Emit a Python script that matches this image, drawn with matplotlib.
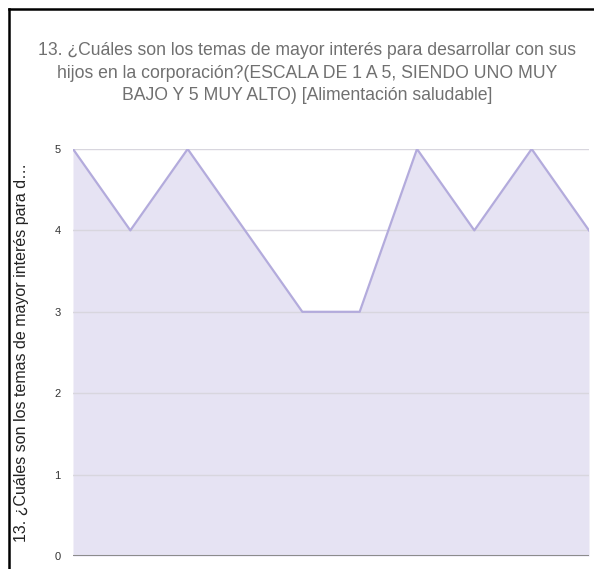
import matplotlib

matplotlib.use("Agg")

import matplotlib.pyplot as plt
from matplotlib.lines import Line2D

title = ("13. ¿Cuáles son los temas de mayor interés para desarrollar con sus\n"
         "hijos en la corporación?(ESCALA DE 1 A 5, SIENDO UNO MUY\n"
         "BAJO Y 5 MUY ALTO) [Alimentación saludable]")
ylabel = "13. ¿Cuáles son los temas de mayor interés para d…"
responses = list(range(10))
values = [5, 4, 5, 4, 3, 3, 5, 4, 5, 4]
yticks = [0, 1, 2, 3, 4, 5]

fig = plt.figure(figsize=(5.94, 5.69), dpi=100)
W, H = 594, 569
ax = fig.add_axes([73 / W, 1 - 556 / H, (589 - 73) / W, (556 - 149) / H])

ax.fill_between(responses, values, 0, color="#e6e3f3", linewidth=0, zorder=1)
ax.plot(responses, values, color="#b3abdc", linewidth=1.6, zorder=3)
for y in yticks[1:]:
    ax.axhline(y, color="#d8d6de", linewidth=1.0, zorder=2)
ax.axhline(0, color="#8c8c8c", linewidth=2.2, zorder=4)

ax.set_xlim(0, 9)
ax.set_ylim(0, 5)
ax.set_xticks([])
ax.set_yticks(yticks)
ax.set_yticklabels([str(t) for t in yticks], family="Liberation Sans",
                   fontsize=8, color="#333333")
ax.tick_params(axis="y", length=0, pad=9)
for s in ax.spines.values():
    s.set_visible(False)

fig.text(22 / W, 1 - 352 / H, ylabel, rotation=90, ha="center", va="center",
         fontsize=11.5, color="#222222", family="Liberation Sans")

fig.text(307 / W, 1 - 73 / H, title, ha="center", va="center",
         fontsize=12.7, color="#707070", family="Liberation Sans",
         linespacing=1.45)

# screenshot frame on the left and top
fig.add_artist(Line2D([9 / W, 9 / W], [0, 1 - 9 / H], color="black",
                      linewidth=1.8, transform=fig.transFigure))
fig.add_artist(Line2D([9 / W, 1], [1 - 9 / H, 1 - 9 / H], color="black",
                      linewidth=1.8, transform=fig.transFigure))

fig.savefig("out.png", dpi=100)
